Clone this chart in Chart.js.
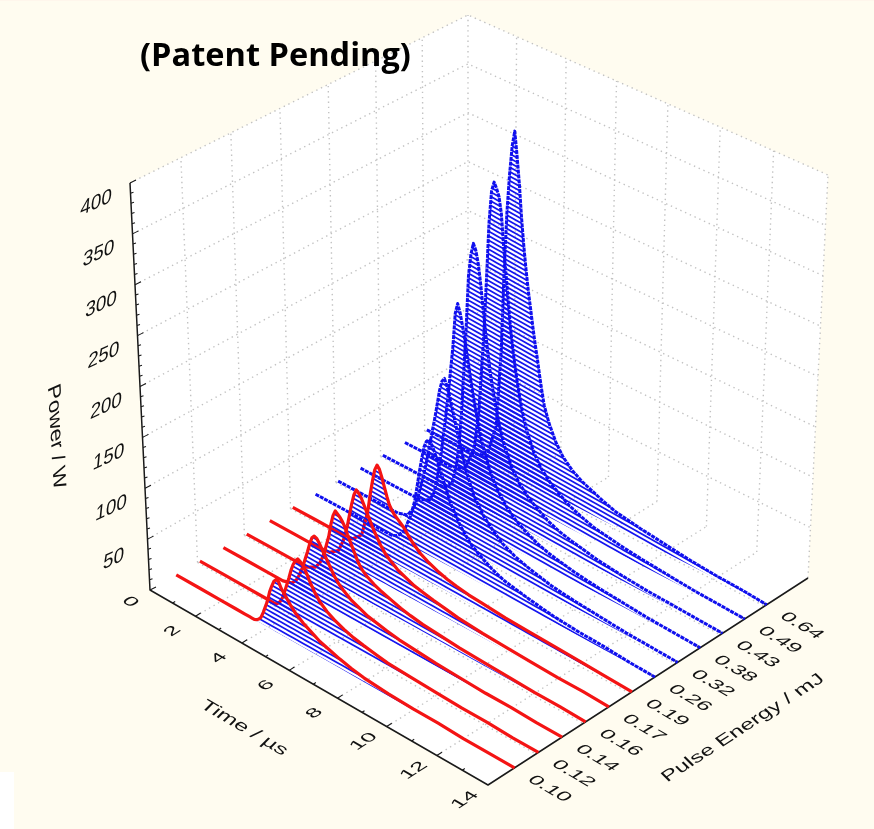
<!DOCTYPE html>
<html><head><meta charset="utf-8">
<style>
html,body{margin:0;padding:0;background:#fffcf0;width:874px;height:829px;overflow:hidden}
#top{position:absolute;left:0;top:0;width:874px;height:1px;background:#fff6ec}
#patch{position:absolute;left:0;top:772px;width:14px;height:57px;background:#fff}
#c{position:absolute;left:0;top:0}
</style></head><body>
<div id="top"></div><div id="patch"></div>
<canvas id="c" width="874" height="829"></canvas>
<script src="https://cdn.jsdelivr.net/npm/chart.js@4/dist/chart.umd.min.js"></script>
<script>
const title = "(Patent Pending)";
const timeTitle = "Time / µs", energyTitle = "Pulse Energy / mJ", powerTitle = "Power / W";
const timeTicks = [2,4,6,8,10,12,14];
const powerTicks = [0,50,100,150,200,250,300,350,400];
const energyLabels = ["0.10","0.12","0.14","0.16","0.17","0.19","0.26","0.32","0.38","0.43","0.49","0.64"];
const times = [0,1,2,2.6,3,3.2,3.3,3.4,3.5,3.6,3.7,3.8,3.9,4,4.1,4.2,4.3,4.4,4.5,4.6,4.7,4.8,4.9,5,5.2,5.5,5.8,6.2,6.6,7,7.5,8,9,10,11,12,13,14];
const p010 = [0,0,0,0,0,0,0,0,1,3,6,12,19,26,36,43,49,52,51,46,43,40,37,34,29,24,20,15,12,9,6,4,2,1,1,0,0,0];
const p012 = [0,0,0,0,0,0,0,2,5,10,17,25,33,42,49,54,57,56,54,50,46,41,37,33,27,21,17,13,10,8,6,4,3,2,1,1,0,0];
const p014 = [0,0,0,0,3,9,14,20,27,35,43,52,59,62,61,58,54,50,46,42,38,34,31,28,24,19,16,12,10,8,6,5,3,2,1,1,0,0];
const p016 = [0,0,0,0,5,12,18,25,34,43,56,66,72,70,68,65,61,55,50,45,40,35,31,28,24,20,17,14,11,9,7,6,4,3,2,1,1,0];
const p017 = [0,0,0,1,8,20,28,38,50,62,72,78,76,73,68,63,58,53,48,44,40,36,33,30,26,21,18,14,12,10,8,6,4,3,2,1,1,0];
const p019 = [0,0,0,1,10,29,40,56,70,82,88,85,78,70,62,55,51,48,46,44,42,40,37,34,29,23,19,15,12,10,8,7,5,4,3,2,1,0];
const p026 = [0,0,0,0,0,0,0,1,2,4,7,10,15,22,28,37,47,62,78,92,105,112,115,113,102,82,63,46,34,27,20,15,10,6,4,3,1,0];
const p032 = [0,0,0,0,3,10,15,22,30,40,50,62,75,88,102,115,130,145,155,159,153,145,135,125,105,78,58,43,33,25,19,15,9,6,4,2,1,0];
const p038 = [0,0,0,0,5,15,28,42,58,78,98,120,145,170,205,216,208,196,182,167,152,137,124,112,90,68,52,39,30,24,18,14,9,6,4,2,1,0];
const p043 = [0,0,0,0,8,30,50,80,125,170,225,248,260,254,242,223,200,178,158,140,125,112,100,90,73,56,44,34,27,21,16,13,8,5,3,2,1,0];
const p049 = [0,0,0,5,30,70,110,150,205,265,298,308,303,296,280,248,222,195,170,150,133,118,105,93,75,57,45,35,28,22,17,13,9,6,4,2,1,0];
const p064 = [0,0,0,5,40,120,200,260,300,330,346,322,295,262,235,212,192,175,158,142,128,112,98,85,70,54,43,34,28,24,19,15,11,8,5,3,2,0];
const seriesList = [p010,p012,p014,p016,p017,p019,p026,p032,p038,p043,p049,p064];

/* view geometry of the 3-D box, in page pixels */
function quad(p0,p1,p2,p3){
  const sx=p0[0]-p1[0]+p2[0]-p3[0], sy=p0[1]-p1[1]+p2[1]-p3[1];
  const dx1=p1[0]-p2[0], dx2=p3[0]-p2[0], dy1=p1[1]-p2[1], dy2=p3[1]-p2[1];
  const den=dx1*dy2-dx2*dy1, g=(sx*dy2-dx2*sy)/den, h=(dx1*sy-sx*dy1)/den;
  const a=p1[0]-p0[0]+g*p1[0], b=p3[0]-p0[0]+h*p3[0], d=p1[1]-p0[1]+g*p1[1], e=p3[1]-p0[1]+h*p3[1];
  return (u,v)=>{const w=g*u+h*v+1;return [(a*u+b*v+p0[0])/w,(d*u+e*v+p0[1])/w];};
}
const floorQ = quad([150,590],[488,785],[808,578],[468,406]);
const topQ   = quad([130,183],[490,366],[828,175],[468,15]);
const T_MAX=14, E_MAX=14, P_MAX=400;
function proj(t,e,p){
  const a=floorQ(t/T_MAX,e/E_MAX), b=topQ(t/T_MAX,e/E_MAX), k=p/P_MAX;
  return {x:a[0]+(b[0]-a[0])*k, y:a[1]+(b[1]-a[1])*k};
}
const GAP={x:NaN,y:NaN};
const ePos = i => i+1.1;

function hatch(phase){
  const w=16,h=9,cv=document.createElement('canvas');cv.width=w;cv.height=h;
  const c=cv.getContext('2d');c.strokeStyle='#1414f0';c.lineWidth=1.7;
  for(let k=-4;k<=2;k++){const y=phase+k*4.5;c.beginPath();c.moveTo(-1,y-9/16);c.lineTo(w+1,y+9+9/16);c.stroke();}
  return c.createPattern(cv,'repeat');
}

/* grid + axes */
const axisPts=[], tickPts=[], wallA=[], wallB=[];
function seg(arr,a,b){arr.push(a,b,GAP);}
for(let t=2;t<=12;t+=2) seg(wallA,proj(t,E_MAX,0),proj(t,E_MAX,P_MAX));
for(let e=2;e<=12;e+=2) seg(wallB,proj(0,e,0),proj(0,e,P_MAX));
seg(wallB,proj(T_MAX,E_MAX,0),proj(T_MAX,E_MAX,P_MAX));

axisPts.push(proj(0,0,P_MAX),proj(0,0,0),proj(T_MAX,0,0),proj(T_MAX,E_MAX,0));
for(let p=0;p<=P_MAX;p+=10){const a=proj(0,0,p);seg(tickPts,a,{x:a.x+(p%50?3:6),y:a.y-(p%50?1:3)});}
for(let t=1;t<T_MAX;t++){const a=proj(t,0,0),l=t%2?3:6;seg(tickPts,a,{x:a.x+l*.84,y:a.y-l*.55});}
for(let i=0;i<energyLabels.length;i++){const a=proj(T_MAX,ePos(i),0);seg(tickPts,a,{x:a.x-4,y:a.y-2.4});}

/* datasets: lowest index is painted last */
const datasets=[];
const line=(o)=>Object.assign({showLine:true,pointRadius:0,pointHoverRadius:0,tension:0,fill:false,spanGaps:false,borderJoinStyle:'round',borderCapStyle:'butt'},o);
const N=seriesList.length;
const floorStart = N;
for(let i=0;i<N;i++){
  const red=i<6;
  datasets.push(line({label:energyLabels[i]+' mJ',
    data:times.map((t,j)=>proj(t,ePos(i),seriesList[i][j])),
    borderColor:red?'#f41414':'#1010ee',borderWidth:red?3.2:3,borderDash:red?[]:[4,0.9],
    backgroundColor:hatch((i*0.55+0.4)%4.5),fill:{target:floorStart+i}}));
}
for(let i=0;i<N;i++) datasets.push(line({label:'floor',data:times.map(t=>proj(t,ePos(i),0)),borderWidth:0,borderColor:'rgba(0,0,0,0)'}));
const dots={borderColor:'#c2c2c2',borderWidth:1.4,borderDash:[1.4,3.8]};
datasets.push(line({label:'axis',data:axisPts,borderColor:'#1a1a1a',borderWidth:1.5}));
datasets.push(line({label:'ticks',data:tickPts,borderColor:'#1a1a1a',borderWidth:1.1}));
datasets.push(line(Object.assign({label:'grid floor',data:[]
  .concat(...timeTicks.slice(0,6).map(t=>[proj(t,0,0),proj(t,E_MAX,0),GAP]))
  .concat(...[2,4,6,8,10,12].map(e=>[proj(0,e,0),proj(T_MAX,e,0),GAP]))},dots)));
datasets.push(line(Object.assign({label:'grid wall t',data:wallA},dots)));
datasets.push(line(Object.assign({label:'grid wall e',data:wallB},dots)));
datasets.push(line(Object.assign({label:'grid power',data:[]
  .concat(...powerTicks.slice(1).map(p=>[proj(0,0,p),proj(0,E_MAX,p),proj(T_MAX,E_MAX,p),GAP]))
  .concat([proj(0,E_MAX,0),proj(0,E_MAX,P_MAX),GAP])},dots)));
/* white box faces: upper and lower outlines */
const lowIdx=datasets.length+1;
datasets.push(line({label:'faces',data:[proj(0,0,P_MAX),proj(0,E_MAX,P_MAX),proj(T_MAX,E_MAX,P_MAX)],
  borderWidth:0,borderColor:'rgba(0,0,0,0)',backgroundColor:'#ffffff',fill:{target:lowIdx}}));
datasets.push(line({label:'faces low',data:[proj(0,0,P_MAX),proj(0,0,0),proj(T_MAX,0,0),proj(T_MAX,E_MAX,0),proj(T_MAX,E_MAX,P_MAX)],borderWidth:0,borderColor:'rgba(0,0,0,0)'}));

const textPlugin={id:'text',afterDraw(ch){
  const c=ch.ctx;c.save();c.fillStyle='#111';c.textAlign='center';c.textBaseline='middle';
  const put=(s,x,y,m,font)=>{c.save();c.font=font;c.transform(m[0],m[1],m[2],m[3],x,y);c.fillText(s,0,0);c.restore();};
  const F='15px "Liberation Sans"';
  const wall=[1.25,-.58,-.14,1.4], alongE=[1.3,-.84,.95,.55], alongT=[1.3,.76,-.95,.6];
  for(const p of powerTicks){const a=proj(0,0,p);
    if(p===0) put('0',a.x-20,a.y+12,alongT,F); else put(String(p),a.x-34,a.y+20,wall,F);}
  for(const t of timeTicks){const a=proj(t,0,0);put(String(t),a.x-23,a.y+15,alongE,F);}
  energyLabels.forEach((l,i)=>{const a=proj(T_MAX,ePos(i),0);put(l,a.x+35,a.y+21,alongT,F);});
  put(timeTitle,244,728,[1.36,.8,-.8,.8],F);
  put(energyTitle,743,728,[1.3,-.84,.8,.8],F);
  put(powerTitle,56,437,[.09,1.5,-1.2,.55],F);
  c.textAlign='left';c.fillStyle='#000';
  put(title,140,57,[1.05,0,0,1.02],'bold 31px "Open Sans"');
  c.restore();
}};

new Chart(document.getElementById('c'),{
  type:'scatter',
  data:{datasets},
  options:{responsive:false,animation:false,
    layout:{padding:0},
    events:[],
    scales:{x:{type:'linear',min:0,max:874,display:false},y:{type:'linear',min:0,max:829,reverse:true,display:false}},
    plugins:{legend:{display:false},tooltip:{enabled:false},filler:{propagate:false,drawTime:'beforeDatasetDraw'}}
  },
  plugins:[textPlugin]
});
</script>
</body></html>
